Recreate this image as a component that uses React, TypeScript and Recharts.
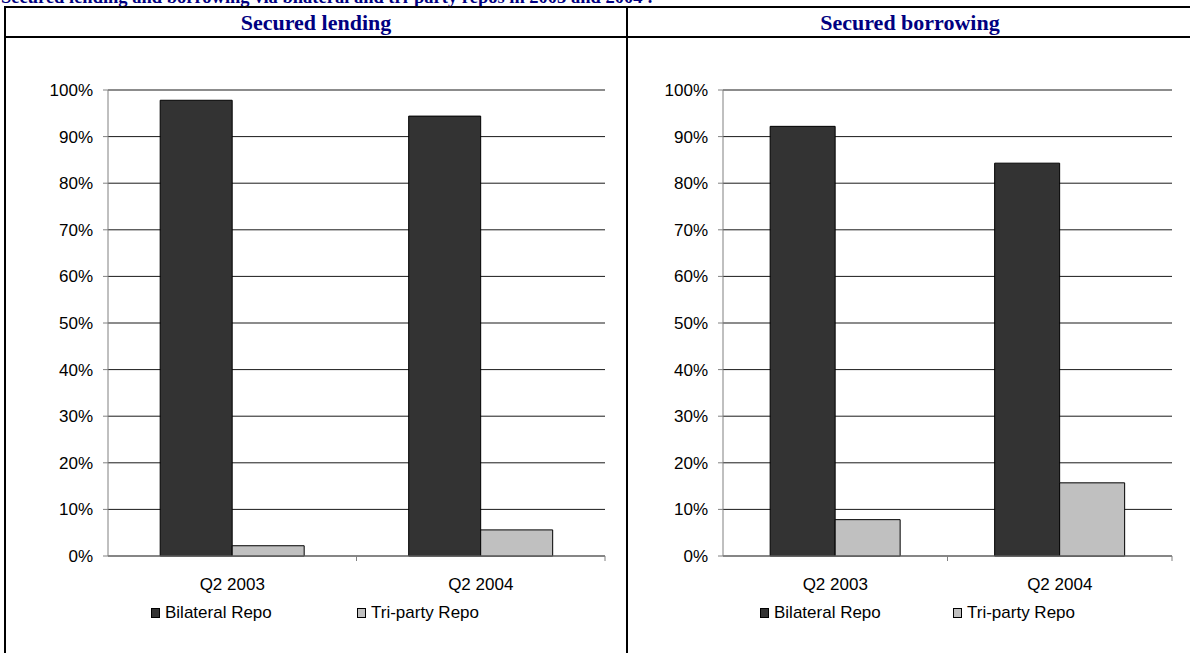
import React from 'react';
import { BarChart, Bar, XAxis, YAxis, CartesianGrid } from 'recharts';

const categories = ['Q2 2003', 'Q2 2004'];
const seriesNames = ['Bilateral Repo', 'Tri-party Repo'];
const lendingBilateral = [97.8, 94.4];
const lendingTriparty = [2.2, 5.6];
const borrowingBilateral = [92.2, 84.3];
const borrowingTriparty = [7.8, 15.7];
const yTicks = [0, 10, 20, 30, 40, 50, 60, 70, 80, 90, 100];
const mainTitle = 'Secured lending and borrowing via bilateral and tri-party repos in 2003 and 2004 :';
const panelTitles = ['Secured lending', 'Secured borrowing'];

const colors = ['#333333', '#C0C0C0'];
const FONT = '"Liberation Sans", Arial, sans-serif';
const SERIF = '"Liberation Serif", "Times New Roman", serif';

const lendingData = categories.map((c, i) => ({ cat: c, bilateral: lendingBilateral[i], triparty: lendingTriparty[i] }));
const borrowingData = categories.map((c, i) => ({ cat: c, bilateral: borrowingBilateral[i], triparty: borrowingTriparty[i] }));

const XTick = (props: any) => {
  const { x, y, payload, band } = props;
  return (
    <g>
      <text x={x} y={y + 34} textAnchor="middle" fontSize={17} fontFamily={FONT} fill="#000">
        {payload.value}
      </text>
      <line x1={x + band / 2} x2={x + band / 2} y1={y} y2={y + 5} stroke="#808080" strokeWidth={1} />
    </g>
  );
};

const Panel = (props: { data: any[]; left: number; width: number; plotRight: number; legendX: number[] }) => {
  const { data, left, width, plotRight, legendX } = props;
  const yAxisWidth = 108;
  const plotWidth = width - yAxisWidth - plotRight;
  const band = plotWidth / categories.length;
  return (
    <div style={{ position: 'absolute', left, top: 40, width, height: 613 }}>
      <BarChart
        width={width}
        height={610}
        data={data}
        margin={{ top: 50, right: plotRight, bottom: 64, left: 0 }}
        barCategoryGap="21%"
        barGap={0}
      >
        <CartesianGrid horizontal={true} vertical={false} stroke="#000" strokeOpacity={0.9} />
        <YAxis
          domain={[0, 100]}
          ticks={yTicks}
          interval={0}
          width={yAxisWidth}
          tickFormatter={(v: number) => `${v}%`}
          axisLine={{ stroke: '#808080' }}
          tickLine={{ stroke: '#808080' }}
          tickSize={5}
          tickMargin={10}
          tick={{ fontSize: 17, fontFamily: FONT, fill: '#000' }}
        />
        <XAxis
          dataKey="cat"
          axisLine={{ stroke: '#808080' }}
          tickLine={false}
          tickSize={0}
          tickMargin={0}
          height={30}
          interval={0}
          tick={<XTick band={band} />}
        />
        <Bar dataKey="bilateral" name={seriesNames[0]} fill={colors[0]} stroke="#000" strokeWidth={1} isAnimationActive={false} />
        <Bar dataKey="triparty" name={seriesNames[1]} fill={colors[1]} stroke="#000" strokeWidth={1} isAnimationActive={false} />
      </BarChart>
      {seriesNames.map((n, i) => (
        <div key={n} style={{ position: 'absolute', left: legendX[i], top: 563, display: 'flex', alignItems: 'center', fontFamily: FONT, fontSize: 17, color: '#000', whiteSpace: 'nowrap' }}>
          <span style={{ display: 'inline-block', width: 7, height: 8, background: colors[i], border: '1px solid #000', marginRight: 5 }} />
          <span>{n}</span>
        </div>
      ))}
    </div>
  );
}

export default function App() {
  return (
    <div style={{ position: 'fixed', left: 0, top: 0, width: 1190, height: 653, overflow: 'hidden', background: '#fff' }}>
      <div style={{ position: 'absolute', left: 1, top: -13, fontFamily: SERIF, fontWeight: 'bold', fontSize: 18.5, color: '#000080', whiteSpace: 'nowrap', lineHeight: '20px' }}>
        {mainTitle}
      </div>
      {/* table borders */}
      <div style={{ position: 'absolute', left: 4, top: 6, width: 1200, height: 2, background: '#000' }} />
      <div style={{ position: 'absolute', left: 4, top: 36, width: 1200, height: 2, background: '#000' }} />
      <div style={{ position: 'absolute', left: 4, top: 6, width: 2, height: 660, background: '#000' }} />
      <div style={{ position: 'absolute', left: 626, top: 6, width: 2, height: 660, background: '#000' }} />
      <div style={{ position: 'absolute', left: 6, top: 8, width: 620, height: 28, textAlign: 'center', fontFamily: SERIF, fontWeight: 'bold', fontSize: 22, color: '#000080', lineHeight: '30px' }}>
        {panelTitles[0]}
      </div>
      <div style={{ position: 'absolute', left: 628, top: 8, width: 564, height: 28, textAlign: 'center', fontFamily: SERIF, fontWeight: 'bold', fontSize: 22, color: '#000080', lineHeight: '30px' }}>
        {panelTitles[1]}
      </div>
      <Panel data={lendingData} left={0} width={620} plotRight={15} legendX={[151, 357]} />
      <Panel data={borrowingData} left={615} width={575} plotRight={18} legendX={[145, 338]} />
    </div>
  );
}
